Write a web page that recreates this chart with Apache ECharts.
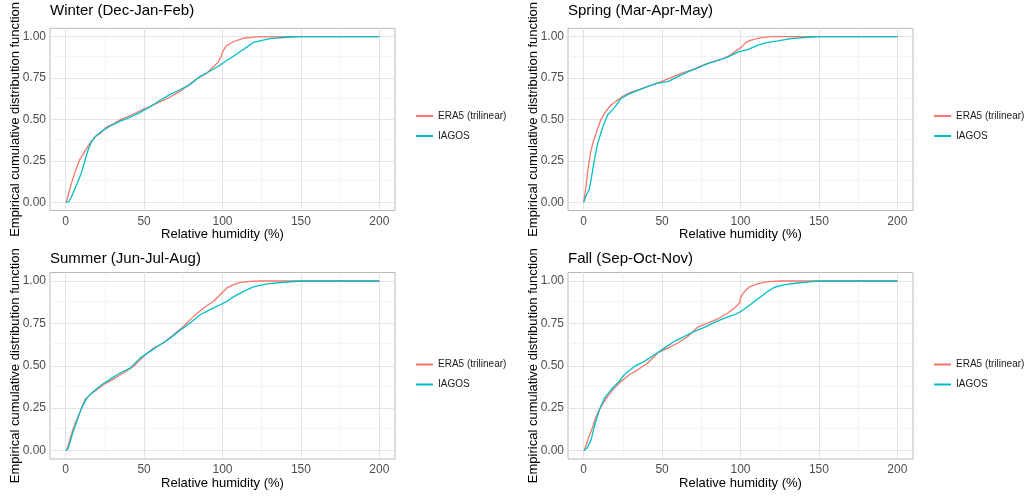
<!DOCTYPE html>
<html><head><meta charset="utf-8">
<script src="https://cdn.jsdelivr.net/npm/echarts@6/dist/echarts.min.js"></script>
<style>html,body{margin:0;padding:0;background:#fff}#c{width:1032px;height:496px}</style>
</head><body><div id="c"></div>
<script>
// ---------------- data ----------------
const panelTitles = ['Winter (Dec-Jan-Feb)', 'Spring (Mar-Apr-May)', 'Summer (Jun-Jul-Aug)', 'Fall (Sep-Oct-Nov)'];
const seriesNames = ['ERA5 (trilinear)', 'IAGOS'];
const xTitle = 'Relative humidity (%)';
const yTitle = 'Empirical cumulative distribution function';
const xTicks = [0, 50, 100, 150, 200];
const xMinor = [25, 75, 125, 175];
const yTicks = [0, 0.25, 0.5, 0.75, 1];
const yMinor = [0.125, 0.375, 0.625, 0.875];

const winterERA5 = [[0.4,0],[2.6,0.079],[5.7,0.177],[8.9,0.256],[12.1,0.305],[15.3,0.354],[18.5,0.394],[21.7,0.413],[26,0.453],[30.2,0.472],[35.5,0.502],[40.9,0.522],[47.2,0.551],[53.6,0.577],[60,0.606],[66.4,0.634],[72.8,0.669],[79.1,0.713],[83.4,0.744],[89.8,0.778],[94,0.817],[97.2,0.846],[99.4,0.886],[100.4,0.915],[102.6,0.945],[106.8,0.969],[113.2,0.99],[121.7,0.998],[135,1],[200,1]];
const winterIAGOS = [[0,0],[2.1,0.004],[3.6,0.03],[5.7,0.079],[7.9,0.128],[10,0.177],[12.1,0.246],[14.3,0.315],[16.4,0.364],[19.6,0.404],[23.8,0.433],[29.1,0.463],[34.5,0.488],[40.9,0.512],[47.2,0.541],[53.6,0.575],[60,0.614],[66.4,0.65],[72.8,0.679],[79.1,0.709],[85.5,0.758],[91.9,0.791],[98.3,0.827],[102.6,0.856],[106.8,0.88],[111.1,0.909],[115.3,0.935],[119.6,0.965],[123.8,0.974],[130.2,0.988],[140.9,0.996],[150.4,1],[200,1]];

const springERA5 = [[0,0],[1.5,0.098],[3,0.217],[4.7,0.315],[6.4,0.374],[8.5,0.433],[11.1,0.502],[14.3,0.551],[17.4,0.587],[20.6,0.61],[24.9,0.64],[30.2,0.665],[36.6,0.685],[43,0.705],[49.4,0.728],[55.7,0.752],[62.1,0.778],[68.5,0.797],[74.9,0.823],[81.3,0.846],[87.7,0.862],[94,0.892],[97.2,0.915],[100.4,0.935],[103.6,0.965],[106.8,0.979],[113.2,0.994],[119.6,1],[200,1]];
const springIAGOS = [[0,0],[1.5,0.039],[3.6,0.079],[5.1,0.157],[6.8,0.256],[8.9,0.354],[12.1,0.453],[15.3,0.528],[19.6,0.571],[23.8,0.626],[28.1,0.65],[34.5,0.675],[40.9,0.699],[47.2,0.719],[53.6,0.728],[60,0.758],[66.4,0.787],[72.8,0.811],[79.1,0.837],[85.5,0.856],[91.9,0.876],[98.3,0.906],[104.7,0.921],[111.1,0.949],[117.4,0.965],[123.8,0.974],[132.3,0.988],[142.9,0.996],[150.4,1],[200,1]];

const summerERA5 = [[0.6,0],[2.3,0.053],[4.5,0.122],[7,0.181],[9.6,0.24],[12.3,0.299],[15.5,0.329],[19.8,0.358],[24,0.388],[30.4,0.421],[36.8,0.457],[43.2,0.496],[49.6,0.555],[56,0.604],[62.3,0.634],[68.7,0.683],[75.1,0.732],[81.5,0.791],[87.9,0.841],[94.3,0.88],[98.5,0.919],[102.8,0.959],[107,0.978],[111.3,0.992],[117.7,0.998],[124,1],[200,1]];
const summerIAGOS = [[0,0],[1.7,0.014],[3.8,0.083],[7,0.171],[10.2,0.25],[13.4,0.309],[17.7,0.348],[23,0.388],[28.3,0.421],[34.7,0.457],[41.1,0.486],[47.4,0.545],[53.8,0.585],[60.2,0.624],[66.6,0.663],[73,0.709],[79.4,0.752],[85.7,0.801],[92.1,0.831],[98.5,0.86],[102.8,0.88],[107,0.906],[113.4,0.939],[119.8,0.965],[128.3,0.983],[141,0.994],[150.6,1],[200,1]];

const fallERA5 = [[0.4,0],[2.6,0.063],[5.1,0.122],[7.9,0.201],[11.1,0.26],[15.3,0.319],[19.6,0.368],[23.8,0.407],[29.1,0.447],[34.5,0.476],[40.9,0.516],[47.2,0.575],[53.6,0.604],[60,0.634],[66.4,0.673],[72.8,0.728],[79.1,0.752],[85.5,0.776],[91.9,0.811],[96.2,0.841],[99.4,0.87],[100.4,0.909],[102.6,0.939],[105.7,0.965],[111.1,0.984],[117.4,0.996],[126,1],[200,1]];
const fallIAGOS = [[0,0],[2.1,0.014],[4.7,0.063],[6.8,0.142],[10,0.24],[13.2,0.309],[17.4,0.358],[21.7,0.398],[25.9,0.447],[32.3,0.496],[38.7,0.526],[45.1,0.565],[51.5,0.604],[57.9,0.644],[64.3,0.673],[70.6,0.703],[77,0.726],[83.4,0.756],[89.8,0.781],[96.2,0.801],[100.4,0.821],[104.7,0.85],[109,0.88],[113.2,0.909],[117.4,0.939],[121.7,0.963],[128.1,0.978],[136.6,0.988],[145.1,0.996],[150.4,1],[200,1]];

const panelData = [[winterERA5, winterIAGOS], [springERA5, springIAGOS], [summerERA5, summerIAGOS], [fallERA5, fallIAGOS]];

// ---------------- layout / style ----------------
const FONT = '"Liberation Sans", Arial, Helvetica, sans-serif';
const colors = ['#F8766D', '#00BFC4'];
const lefts = [50, 568, 50, 568];
const tops = [24, 24, 272.5, 272.5];
const W = 345, H = 186.5;
const majorStyle = {color: '#e3e3e3', width: 1, type: 'solid'};
const minorStyle = {color: '#f1f1f1', width: 0.8, type: 'solid'};

const grid = [], xAxis = [], yAxis = [], series = [], title = [], legend = [];
for (let i = 0; i < 4; i++) {
  grid.push({left: lefts[i], top: tops[i], width: W, height: H, show: true,
    borderColor: '#b8b8b8', borderWidth: 1, backgroundColor: '#fff', containLabel: false});
  title.push({text: panelTitles[i], left: lefts[i], top: tops[i] - 21, padding: 0,
    textStyle: {fontFamily: FONT, fontSize: 15, fontWeight: 'normal', color: '#000'}});
  xAxis.push({type: 'value', gridIndex: i, min: -10, max: 210,
    axisLine: {show: false},
    axisTick: {show: true, customValues: xTicks, length: 3, lineStyle: {color: '#b3b3b3'}},
    axisLabel: {customValues: xTicks, margin: 5, color: '#4d4d4d', fontSize: 12, fontFamily: FONT},
    splitLine: {show: false},
    name: xTitle, nameLocation: 'middle', nameGap: 17,
    nameTextStyle: {fontFamily: FONT, fontSize: 13, color: '#000'}});
  yAxis.push({type: 'value', gridIndex: i, min: -0.05, max: 1.05,
    axisLine: {show: false},
    axisTick: {show: true, customValues: yTicks, length: 3, lineStyle: {color: '#b3b3b3'}},
    axisLabel: {customValues: yTicks, margin: 4, color: '#4d4d4d', fontSize: 12, fontFamily: FONT,
      formatter: v => v.toFixed(2)},
    splitLine: {show: false},
    name: yTitle, nameLocation: 'middle', nameGap: 28, nameMoveOverlap: false,
    nameTextStyle: {fontFamily: FONT, fontSize: 13, color: '#000'}});
  const gridLines = [
    ...xMinor.map(v => ({xAxis: v, lineStyle: minorStyle})),
    ...yMinor.map(v => ({yAxis: v, lineStyle: minorStyle})),
    ...xTicks.map(v => ({xAxis: v, lineStyle: majorStyle})),
    ...yTicks.map(v => ({yAxis: v, lineStyle: majorStyle}))
  ];
  for (let s = 0; s < 2; s++) {
    const ser = {type: 'line', name: seriesNames[s], xAxisIndex: i, yAxisIndex: i,
      data: panelData[i][s], symbol: 'none', showSymbol: false, z: 3,
      lineStyle: {color: colors[s], width: 1.3}, itemStyle: {color: colors[s]},
      emphasis: {disabled: true}, animation: false};
    if (s === 0) {
      ser.markLine = {silent: true, symbol: ['none', 'none'], label: {show: false}, z: 1,
        animation: false, emphasis: {disabled: true}, data: gridLines};
    }
    series.push(ser);
  }
  legend.push({orient: 'vertical', left: lefts[i] + W + 21, top: tops[i] + 85, padding: 0,
    data: seriesNames, icon: 'rect', itemWidth: 17, itemHeight: 2, itemGap: 6,
    selectedMode: false,
    textStyle: {fontFamily: FONT, fontSize: 10, color: '#1a1a1a', lineHeight: 14}});
}

const chart = echarts.init(document.getElementById('c'), null, {renderer: 'canvas'});
chart.setOption({animation: false, backgroundColor: '#fff', title, legend, grid, xAxis, yAxis, series});
</script>
</body></html>
